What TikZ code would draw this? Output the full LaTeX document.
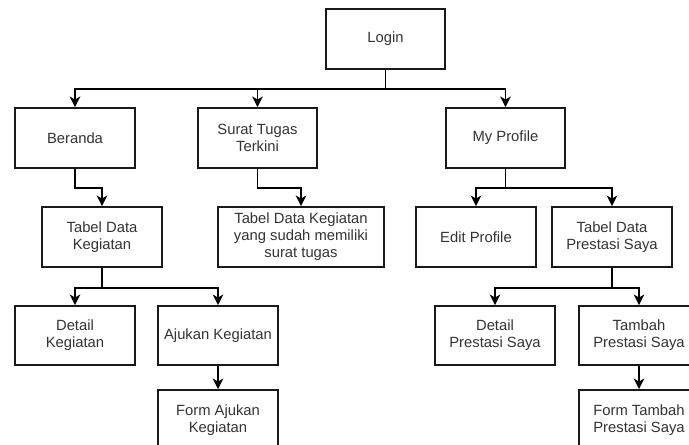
\documentclass[tikz,border=0pt]{standalone}
\usepackage{fontspec}
\setmainfont{Liberation Sans}
\usetikzlibrary{arrows.meta}
\begin{document}
\begin{tikzpicture}[x=1pt,y=-1pt,
  box/.style={draw=black!90, line width=1.9pt, rectangle, minimum width=120pt, minimum height=60pt,
    inner sep=1pt, align=center, text=black!80, font=\fontsize{14.8}{17}\selectfont},
  arr/.style={draw=black, line width=1.9pt, -{Stealth[length=10.5pt,width=10.5pt,inset=3pt]}},
  conn/.style={draw=black, line width=1.9pt}]
\useasboundingbox (0,0) rectangle (689,445);
\clip (0,0) rectangle (689,445);
\fill[white] (0,0) rectangle (689,445);
\node[box, minimum width=119pt] (login) at (385.5,39) {Login};
\node[box] (beranda) at (75,138) {Beranda};
\node[box, minimum width=119pt] (surat) at (257.5,138) {Surat Tugas\\Terkini};
\node[box, minimum width=119pt] (profile) at (505.5,138) {My Profile};
\node[box] (tdk) at (102,237) {Tabel Data\\Kegiatan};
\node[box, minimum width=166pt] (tdks) at (301,237) {Tabel Data Kegiatan\\yang sudah memiliki\\surat tugas};
\node[box] (edit) at (476,237) {Edit Profile};
\node[box] (tdp) at (612,237) {Tabel Data\\Prestasi Saya};
\node[box, minimum height=59pt] (detk) at (75,335.5) {Detail\\Kegiatan};
\node[box, minimum height=59pt] (ajukan) at (218,335.5) {Ajukan Kegiatan};
\node[box, minimum height=59pt] (detp) at (495,335.5) {Detail\\Prestasi Saya};
\node[box, minimum height=59pt] (tambah) at (639,335.5) {Tambah\\Prestasi Saya};
\node[box] (formaj) at (218,420) {Form Ajukan\\Kegiatan};
\node[box] (formt) at (639,420) {Form Tambah\\Prestasi Saya};
% connectors
\draw[arr] (login.south) -- ++(0,19) -| (beranda.north);
\draw[arr] (login.south) -- ++(0,19) -| (surat.north);
\draw[arr] (login.south) -- ++(0,19) -| (profile.north);
\draw[arr] (beranda.south) -- ++(0,19) -| (tdk.north);
\draw[arr] (surat.south) -- ++(0,19) -| (tdks.north);
\draw[arr] (profile.south) -- ++(0,19) -| (edit.north);
\draw[arr] (profile.south) -- ++(0,19) -| (tdp.north);
\draw[arr] (tdk.south) -- ++(0,20) -| (detk.north);
\draw[arr] (tdk.south) -- ++(0,20) -| (ajukan.north);
\draw[arr] (tdp.south) -- ++(0,20) -| (detp.north);
\draw[arr] (tdp.south) -- ++(0,20) -| (tambah.north);
\draw[arr] (ajukan.south) -- (formaj.north);
\draw[arr] (tambah.south) -- (formt.north);
\end{tikzpicture}
\end{document}
